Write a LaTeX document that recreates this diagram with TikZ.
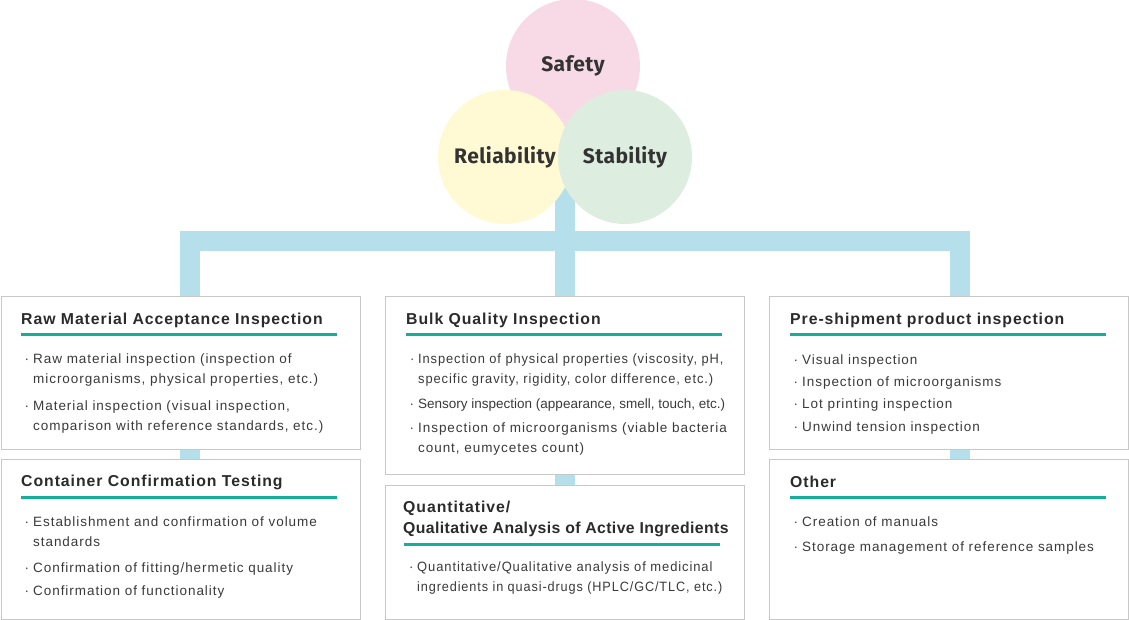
\documentclass[tikz,border=0pt]{standalone}
\usepackage{fontspec}
\setmainfont{Liberation Sans}
\newfontfamily\tfont[LetterSpace=6]{Liberation Sans}
\newfontfamily\tfontn[LetterSpace=2.5]{Liberation Sans}
\newfontfamily\bfont[LetterSpace=7]{Liberation Sans}
\newfontfamily\pfont{Liberation Sans}
\newfontfamily\cfont[LetterSpace=2]{Fira Sans}
\definecolor{pinkc}{HTML}{F8DAE6}
\definecolor{yelc}{HTML}{FFFAD4}
\definecolor{grnc}{HTML}{DDEDE0}
\definecolor{barc}{HTML}{B5DFEA}
\definecolor{tealc}{HTML}{14AE9A}
\definecolor{boxc}{HTML}{C8C8C8}
\definecolor{ttlc}{HTML}{2B2B2B}
\definecolor{bodyc}{HTML}{3A3A3A}
\definecolor{circc}{HTML}{333333}
\pgfdeclarelayer{background}
\pgfsetlayers{background,main}
\newcommand\bul{\llap{·\kern4pt}}
\newcommand\sq[2]{\scalebox{#1}[1]{#2}}
\tikzset{
 box/.style={draw=boxc, line width=1.2pt, fill=white, anchor=north west, inner sep=0pt, minimum width=359pt},
 ttl/.style={anchor=base west, inner sep=0pt, text=ttlc, font=\tfont\bfseries\fontsize{15.8}{18}\selectfont},
 ttln/.style={ttl, font=\tfontn\bfseries\fontsize{15.8}{18}\selectfont},
 itm/.style={anchor=base west, inner sep=0pt, text=bodyc, font=\bfont\fontsize{13.5}{16}\selectfont},
 itmp/.style={itm, font=\pfont\fontsize{13.5}{16}\selectfont},
 ul/.style={draw=tealc, line width=3pt},
 bar/.style={draw=barc, line width=20pt},
 circ/.style={circle, minimum size=134pt, inner sep=0pt, text=circc, font=\cfont\bfseries\fontsize{21}{24}\selectfont},
}
\begin{document}
\begin{tikzpicture}[x=1pt,y=-1pt]
\useasboundingbox (0,0) rectangle (1129,620);
% circles
\node[circ, fill=pinkc] (saf) at (573,66) {Safety};
\node[circ, fill=yelc] (rel) at (505,157) {Reliability};
\node[circ, fill=grnc] (sta) at (625,157) {Stability};
% boxes
\node[box, minimum height=153pt] (b1) at (0.6,296) {};
\node[box, minimum height=160pt] (b4) at (0.6,459) {};
\node[box, minimum height=178pt] (b2) at (385,296) {};
\node[box, minimum height=134pt] (b5) at (385,485) {};
\node[box, minimum height=153pt] (b3) at (769,296) {};
\node[box, minimum height=160pt] (b6) at (769,459) {};
% connectors
\coordinate (jL) at (190,241);
\coordinate (jM) at (565,241);
\coordinate (jR) at (960,241);
\begin{pgfonlayer}{background}
\draw[bar] (b4.north -| jL) -- (jL) -- (jR) -- (b6.north -| jR);
\draw[bar] (saf.center -| jM) -- (jM) -- (b5.north -| jM);
\end{pgfonlayer}
% box 1
\node[ttl] (t1) at (21,324) {Raw Material Acceptance Inspection};
\draw[ul] (21,334) -- (337,334);
\node[itm] (i11) at (33,363) {\bul Raw material inspection (inspection of};
\node[itm] (i12) at (33,383) {microorganisms, physical properties, etc.)};
\node[itm] (i13) at (33,410) {\bul Material inspection (visual inspection,};
\node[itm] (i14) at (33,430) {comparison with reference standards, etc.)};
% box 4
\node[ttl] (t4) at (21,486) {Container Confirmation Testing};
\draw[ul] (21,497.5) -- (337,497.5);
\node[itm] (i41) at (33,526) {\bul Establishment and confirmation of volume};
\node[itm] (i42) at (33,546) {standards};
\node[itm] (i43) at (33,572) {\bul Confirmation of fitting/hermetic quality};
\node[itm] (i44) at (33,595) {\bul Confirmation of functionality};
% box 2
\node[ttl] (t2) at (406,324) {Bulk Quality Inspection};
\draw[ul] (406,334) -- (722,334);
\node[itm] (i21) at (418,363) {\sq{0.953}{\bul Inspection of physical properties (viscosity, pH,}};
\node[itm] (i22) at (418,383) {\sq{0.955}{specific gravity, rigidity, color difference, etc.)}};
\node[itmp] (i23) at (418,408) {\bul Sensory inspection (appearance, smell, touch, etc.)};
\node[itm] (i24) at (418,432) {\bul Inspection of microorganisms (viable bacteria};
\node[itm] (i25) at (418,452) {count, eumycetes count)};
% box 5
\node[ttl] (t5a) at (403,512) {Quantitative/};
\node[ttln] (t5b) at (403,533) {Qualitative Analysis of Active Ingredients};
\draw[ul] (404,544) -- (720,544);
\node[itm] (i51) at (417,571) {\sq{0.96}{\bul Quantitative/Qualitative analysis of medicinal}};
\node[itm] (i52) at (417,591) {\sq{0.94}{ingredients in quasi-drugs (HPLC/GC/TLC, etc.)}};
% box 3
\node[ttl] (t3) at (790,324) {Pre-shipment product inspection};
\draw[ul] (790,334) -- (1106,334);
\node[itm] (i31) at (802,364) {\bul Visual inspection};
\node[itm] (i32) at (802,386) {\bul Inspection of microorganisms};
\node[itm] (i33) at (802,408) {\bul Lot printing inspection};
\node[itm] (i34) at (802,431) {\bul Unwind tension inspection};
% box 6
\node[ttl] (t6) at (790,487) {Other};
\draw[ul] (790,497.5) -- (1106,497.5);
\node[itm] (i61) at (802,526) {\bul Creation of manuals};
\node[itm] (i62) at (802,551) {\bul Storage management of reference samples};
\end{tikzpicture}
\end{document}
